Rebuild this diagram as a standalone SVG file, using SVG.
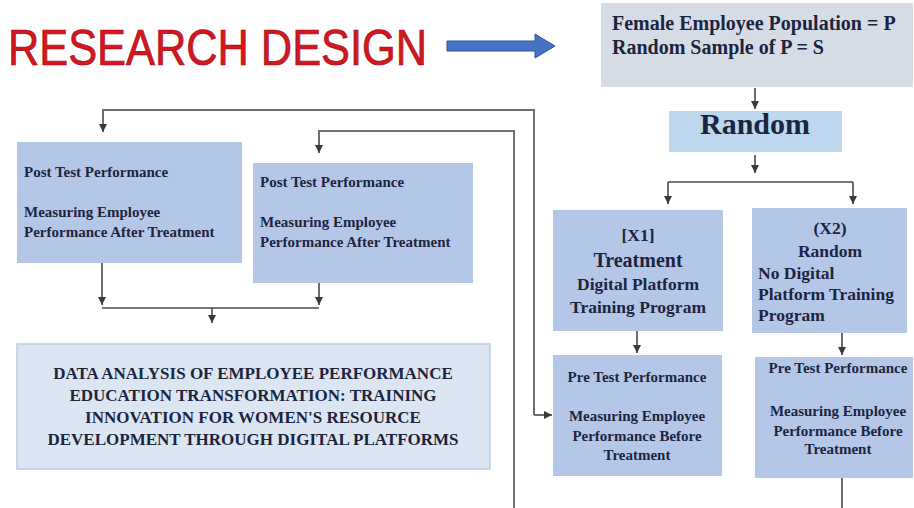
<svg xmlns="http://www.w3.org/2000/svg" width="914" height="508" viewBox="0 0 914 508">
  <defs>
    <marker id="ah" viewBox="0 0 10 10" refX="10" refY="5" markerWidth="8" markerHeight="8" markerUnits="userSpaceOnUse" orient="auto">
      <path d="M0,0 L10,5 L0,10 z" fill="#3a3a3a"/>
    </marker>
    <style>
      .t { font-family: "Liberation Serif", "Times New Roman", serif; font-weight: bold; fill: #1c2540; }
      .c { text-anchor: middle; }
      .box { fill: #b4c7e7; }
      .ln { fill: none; stroke: #4a4a4a; stroke-width: 1.6; }
      .lg { fill: none; stroke: #6f6f6f; stroke-width: 2; }
      .arr { marker-end: url(#ah); }
    </style>
  </defs>

  <rect width="914" height="508" fill="#ffffff"/>

  <!-- heading and pointer -->
  <g id="title">
    <text x="8" y="65" font-family="Liberation Sans, Arial, sans-serif" font-size="50" fill="#d4161f" stroke="#a30f18" stroke-width="0.7" textLength="419" lengthAdjust="spacingAndGlyphs">RESEARCH DESIGN</text>
    <path d="M447,41 H535 V34 L555,46 L535,58 V51 H447 z" fill="#4472c4" stroke="#2f5597" stroke-width="1"/>
  </g>

  <!-- connectors -->
  <g id="connectors">
    <path class="ln arr" d="M755,88 V109"/>
    <path class="ln arr" d="M755,155 V173"/>
    <path class="ln" d="M668,182 H853"/>
    <path class="ln arr" d="M668,182 V204"/>
    <path class="ln arr" d="M853,182 V204"/>
    <path class="ln arr" d="M637,331 V353"/>
    <path class="ln arr" d="M842,333 V355"/>
    <path class="ln" d="M842,478 V508"/>

    <path class="lg arr" d="M534,415 V110 H103 V132"/>
    <path class="ln arr" d="M534,415 H552"/>
    <path class="lg arr" d="M514,508 V131 H319 V153"/>

    <path class="ln arr" d="M102,263 V305"/>
    <path class="ln arr" d="M319,283 V305"/>
    <path class="ln" d="M102,308 H319"/>
    <path class="ln arr" d="M212,308 V323"/>
  </g>

  <g id="population">
    <rect x="601" y="3" width="312" height="84" fill="#d6dce6"/>
    <text class="t" x="612" y="30" font-size="20">Female Employee Population = P</text>
    <text class="t" x="612" y="54" font-size="20">Random Sample of P = S</text>
  </g>

  <g id="random">
    <rect x="669" y="111" width="173" height="41" fill="#bdd7ee"/>
    <text class="t c" x="755" y="134" font-size="30">Random</text>
  </g>

  <g id="treatment-x1">
    <rect class="box" x="553" y="210" width="170" height="121"/>
    <text class="t c" x="638" y="241" font-size="17.5">[X1]</text>
    <text class="t c" x="638" y="267" font-size="20">Treatment</text>
    <text class="t c" x="638" y="290" font-size="17.5">Digital Platform</text>
    <text class="t c" x="638" y="313" font-size="17.5">Training Program</text>
  </g>

  <g id="control-x2">
    <rect class="box" x="752" y="208" width="155" height="125"/>
    <text class="t c" x="830" y="234" font-size="17.5">(X2)</text>
    <text class="t c" x="830" y="257" font-size="17.5">Random</text>
    <text class="t" x="758" y="279" font-size="17.5">No Digital</text>
    <text class="t" x="758" y="300" font-size="17.5">Platform Training</text>
    <text class="t" x="758" y="321" font-size="17.5">Program</text>
  </g>

  <g id="pretest-x1">
    <rect class="box" x="553" y="355" width="169" height="121"/>
    <text class="t c" x="637" y="382" font-size="15">Pre Test Performance</text>
    <text class="t c" x="637" y="421" font-size="15">Measuring  Employee</text>
    <text class="t c" x="637" y="441" font-size="15">Performance Before</text>
    <text class="t c" x="637" y="460" font-size="15">Treatment</text>
  </g>

  <g id="pretest-x2">
    <rect class="box" x="755" y="357" width="158" height="121"/>
    <text class="t c" x="838" y="373" font-size="15">Pre Test Performance</text>
    <text class="t c" x="838" y="416" font-size="15">Measuring  Employee</text>
    <text class="t c" x="838" y="436" font-size="15">Performance Before</text>
    <text class="t c" x="838" y="454" font-size="15">Treatment</text>
  </g>

  <g id="posttest-1">
    <rect class="box" x="17" y="142" width="225" height="121"/>
    <text class="t" x="24" y="177" font-size="15">Post Test Performance</text>
    <text class="t" x="24" y="217" font-size="15">Measuring  Employee</text>
    <text class="t" x="24" y="237" font-size="15">Performance After Treatment</text>
  </g>

  <g id="posttest-2">
    <rect class="box" x="253" y="163" width="220" height="120"/>
    <text class="t" x="260" y="187" font-size="15">Post Test Performance</text>
    <text class="t" x="260" y="227" font-size="15">Measuring  Employee</text>
    <text class="t" x="260" y="247" font-size="15">Performance After Treatment</text>
  </g>

  <g id="analysis">
    <rect x="17" y="344" width="473" height="125" fill="#dce6f2" stroke="#bccde3" stroke-width="1.5"/>
    <text class="t c" x="253" y="379" font-size="17">DATA ANALYSIS OF EMPLOYEE PERFORMANCE</text>
    <text class="t c" x="253" y="401" font-size="17">EDUCATION TRANSFORMATION:  TRAINING</text>
    <text class="t c" x="253" y="423" font-size="17">INNOVATION  FOR WOMEN'S RESOURCE</text>
    <text class="t c" x="253" y="445" font-size="17">DEVELOPMENT THROUGH DIGITAL  PLATFORMS</text>
  </g>
</svg>
